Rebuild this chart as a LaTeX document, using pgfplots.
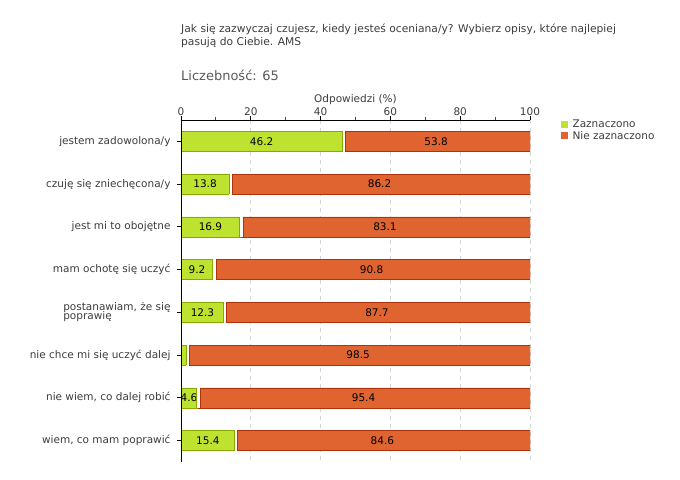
\documentclass[border=0pt]{standalone}
\usepackage{pgfplots}
\pgfplotsset{compat=1.18}
\usepackage{pgfplotstable}
\usepackage{fontspec}
\setmainfont{DejaVu Sans}
\definecolor{gfill}{RGB}{190,226,48}
\definecolor{gdraw}{RGB}{135,170,0}
\definecolor{rfill}{RGB}{224,100,48}
\definecolor{rdraw}{RGB}{175,50,10}
\definecolor{txt}{RGB}{60,60,60}
\definecolor{gridc}{RGB}{215,215,215}

\pgfplotstableread{
y g r gl rl
1 46.2 53.8 46.2 53.8
2 13.8 86.2 13.8 86.2
3 16.9 83.1 16.9 83.1
4 9.2 90.8 9.2 90.8
5 12.3 87.7 12.3 87.7
6 1.5 98.5 {} 98.5
7 4.6 95.4 4.6 95.4
8 15.4 84.6 15.4 84.6
}\data

\pgfplotsset{common/.style={
  at={(0,0)}, anchor=south west,
  scale only axis, width=349bp, height=342bp,
  xmin=0, xmax=100, ymin=0.5, ymax=8.5, y dir=reverse}}

\begin{document}
\begin{tikzpicture}
\begin{axis}[
  common,
  xbar stacked, bar width=20bp,
  axis x line=top, axis y line=left,
  axis line style={-, black, line width=0.8bp},
  xtick={0,20,...,100},
  minor xtick={10,30,50,70,90},
  tick align=outside,
  major tick length=4bp, minor tick length=3.5bp,
  minor tick style={red, line width=0.8bp},
  major tick style={black, line width=0.8bp},
  xmajorgrids, grid style={gridc, dashed, line width=0.6bp, dash pattern=on 4bp off 4bp},
  ytick={1,...,8},
  yticklabels={jestem zadowolona/y, czuję się zniechęcona/y, jest mi to obojętne, mam ochotę się uczyć, {\begin{tabular}{@{}l@{}}postanawiam, że się\\[-2.5bp]poprawię\end{tabular}}, nie chce mi się uczyć dalej, {nie wiem, co dalej robić}, {wiem, co mam poprawić}},
  /pgf/number format/assume math mode=true,
  ticklabel style={font=\fontsize{10.5bp}{12bp}\selectfont, text=txt},
  yticklabel style={xshift=-3bp},
  xticklabel style={yshift=-3bp},
  xlabel={Odpowiedzi (\%)},
  xlabel style={at={(axis description cs:0.5,1)}, anchor=south, yshift=12bp, font=\fontsize{10.5bp}{12bp}\selectfont, text=txt},
  legend style={at={(1.087,1.005)}, anchor=north west, draw=none, fill=none,
    font=\fontsize{10.5bp}{12bp}\selectfont, text=txt, row sep=-1bp, inner sep=0bp,
    nodes={inner sep=1.5bp},
    /tikz/every odd column/.append style={column sep=3.5bp}},
  legend cell align=left,
  legend image code/.code={\fill[#1, draw=none] (0bp,-3.5bp) rectangle (7bp,3.5bp);},
  nodes near coords style={font=\fontsize{10.5bp}{12bp}\selectfont, text=black},
]
\addplot[fill=gfill, draw=gdraw,
  nodes near coords, point meta=explicit symbolic,
  every node near coord/.append style={anchor=center}]
  table[x=g, y=y, meta=gl]{\data};
\addlegendentry{Zaznaczono}
\addplot[fill=rfill, draw=rdraw,
  nodes near coords, point meta=explicit symbolic,
  every node near coord/.append style={anchor=center}]
  table[x=r, y=y, meta=rl]{\data};
\addlegendentry{Nie zaznaczono}
\end{axis}
% overlay: white gap between the two segments of each bar
\begin{axis}[common, hide axis, clip=false]
\addplot[only marks, mark=|, mark size=10.4bp,
  mark options={draw=white, line width=2.8bp, xshift=1.2bp}]
  table[x=g, y=y]{\data};
\addplot[only marks, mark=|, mark size=10.2bp,
  mark options={draw=gdraw, line width=0.5bp, xshift=-0.4bp}]
  table[x=g, y=y]{\data};
\addplot[only marks, mark=|, mark size=10.2bp,
  mark options={draw=rdraw, line width=0.5bp, xshift=2.8bp}]
  table[x=g, y=y]{\data};
\draw[black, line width=0.8bp] (rel axis cs:0,0) -- (rel axis cs:0,1);
\end{axis}
\node[anchor=north west, align=left, inner sep=0, text=txt,
  font=\fontsize{10.7bp}{13bp}\selectfont] at (0bp,438.5bp)
  {Jak się zazwyczaj czujesz, kiedy jesteś oceniana/y? Wybierz opisy, które najlepiej\\pasują do Ciebie. AMS};
\node[anchor=west, inner sep=0, text=txt!85,
  font=\fontsize{13bp}{15bp}\selectfont] at (0bp,387bp) {Liczebność: 65};
\path[use as bounding box] (-181bp,-18bp) rectangle (499bp,462bp);
\end{tikzpicture}
\end{document}
